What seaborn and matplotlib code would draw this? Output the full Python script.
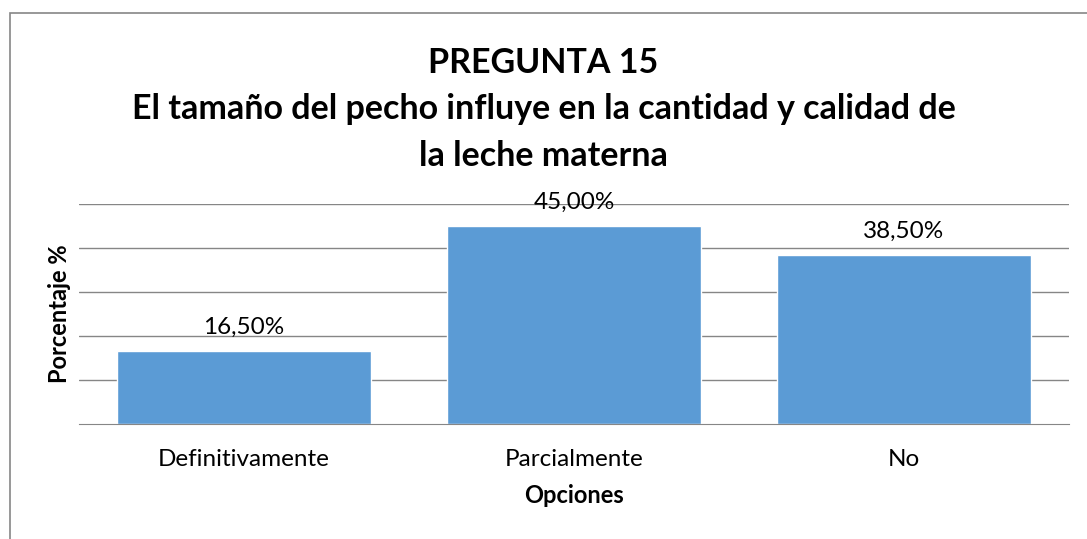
import matplotlib
matplotlib.use("Agg")
import matplotlib.pyplot as plt
from matplotlib.patches import Rectangle
import seaborn as sns
import pandas as pd

opciones = ["Definitivamente", "Parcialmente", "No"]
porcentajes = [16.5, 45.0, 38.5]
etiquetas = ["16,50%", "45,00%", "38,50%"]
titulo = "PREGUNTA 15\nEl tamaño del pecho influye en la cantidad y calidad de\nla leche materna"

sns.set_style("white")
plt.rcParams["font.family"] = ["Lato", "DejaVu Sans"]
plt.rcParams["text.color"] = "black"
plt.rcParams["axes.labelcolor"] = "black"
plt.rcParams["xtick.color"] = "black"

W, H = 1087, 539
fig = plt.figure(figsize=(W / 100, H / 100), dpi=100)
ax = fig.add_axes([79 / W, (H - 424) / H, 990 / W, 220 / H])

df = pd.DataFrame({"Opciones": opciones, "Porcentaje": porcentajes})
sns.barplot(data=df, x="Opciones", y="Porcentaje", color="#5B9BD5",
            saturation=1, width=0.77, ax=ax, zorder=3)

ax.set_xlim(-0.5, 2.5)
ax.set_ylim(0, 50)
ax.set_yticks([10, 20, 30, 40, 50])
ax.yaxis.grid(True, color="#868686", linewidth=1)
ax.tick_params(axis="y", left=False, labelleft=False)
ax.set_xticks([-0.5, 0.5, 1.5, 2.5], minor=True)
ax.tick_params(axis="x", which="minor", length=6, color="#868686", width=1, direction="out")
ax.tick_params(axis="x", which="major", length=0, labelsize=17.5, pad=18,
               labelcolor="black")
for s in ["top", "right", "left"]:
    ax.spines[s].set_visible(False)
ax.spines["bottom"].set_color("#868686")
ax.spines["bottom"].set_zorder(4)

for i, (v, t) in enumerate(zip(porcentajes, etiquetas)):
    ax.text(i, v + 3.0, t, ha="center", va="bottom", fontsize=17.5, zorder=5)

ax.set_xlabel("Opciones", fontsize=17, fontweight="bold", labelpad=10)
ax.set_ylabel("Porcentaje %", fontsize=17, fontweight="bold", labelpad=6)

fig.text(0.5, (H - 47) / H, titulo, ha="center", va="top",
         fontsize=24.5, fontweight="bold", linespacing=1.55)

fig.patches.append(Rectangle((9.5 / W, -0.1), 2, (H - 13) / H + 0.1,
                             transform=fig.transFigure, fill=False,
                             edgecolor="#868686", linewidth=1.2))

fig.savefig("out.png", dpi=100)
